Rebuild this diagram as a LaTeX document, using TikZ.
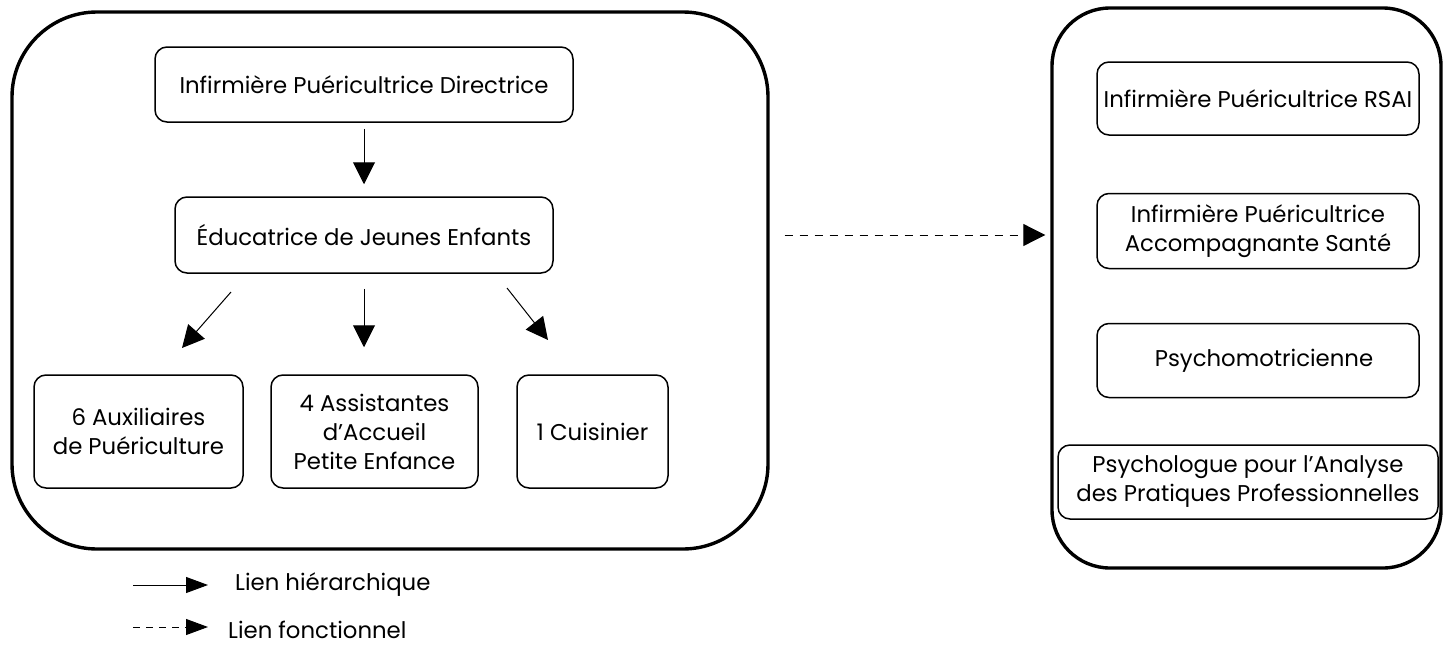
\documentclass[tikz,border=0pt]{standalone}
\usepackage{fontspec}
\setmainfont{Poppins}
\usetikzlibrary{arrows.meta}
\begin{document}
\begin{tikzpicture}[x=1pt,y=-1pt,
  bigbox/.style={draw, line width=3.4pt, rectangle, inner sep=0pt},
  ibox/.style={draw, line width=1.5pt, rectangle, rounded corners=12pt, inner sep=0pt, align=center,
    font=\fontsize{22.8}{29}\selectfont},
  harrow/.style={line width=1pt, -{Triangle[length=22pt,width=22pt]}},
  farrow/.style={line width=1pt, dash pattern=on 8pt off 7pt, -{Triangle[length=22pt,width=22pt]}},
  lgarrow/.style={line width=1pt, -{Triangle[length=22pt,width=16pt]}},
  lgdarrow/.style={line width=1pt, dash pattern=on 7pt off 6pt, -{Triangle[length=22pt,width=16pt]}},
  lgtext/.style={anchor=west, inner sep=0pt, font=\fontsize{22.8}{26}\selectfont}
]
\useasboundingbox (0,0) rectangle (1443,648);
% big containers
\node[bigbox, rounded corners=85pt, minimum width=756pt, minimum height=537pt] (lbox) at (390,280.5) {};
\node[bigbox, rounded corners=58pt, minimum width=389pt, minimum height=560pt] (rbox) at (1246.5,288) {};
% left hierarchy
\node[ibox, minimum width=418pt, minimum height=75pt] (dir) at (364,84.5) {Infirmière Puéricultrice Directrice};
\node[ibox, minimum width=378pt, minimum height=76pt] (edu) at (364,235) {Éducatrice de Jeunes Enfants};
\node[ibox, minimum width=209pt, minimum height=113pt] (aux) at (138.5,431.5) {6 Auxiliaires\\de Puériculture};
\node[ibox, minimum width=207pt, minimum height=113pt] (asst) at (374.5,431.5) {4 Assistantes\\d’Accueil\\Petite Enfance};
\node[ibox, minimum width=151pt, minimum height=113pt] (cuis) at (592.5,431.5) {1 Cuisinier};
% right column
\node[ibox, minimum width=322pt, minimum height=73pt] (rsai) at (1258,98.5) {Infirmière Puéricultrice RSAI};
\node[ibox, minimum width=322pt, minimum height=75pt] (acc) at (1258,231) {Infirmière Puéricultrice\\Accompagnante Santé};
\node[ibox, minimum width=322pt, minimum height=74pt] (psm) at (1258,360.5) {\hspace*{12pt}Psychomotricienne};
\node[ibox, minimum width=380pt, minimum height=74pt] (psy) at (1248,482) {Psychologue pour l’Analyse\\des Pratiques Professionnelles};
% connectors
\coordinate (l1) at (231,292);
\coordinate (l2) at (182,348);
\coordinate (r1) at (507,288);
\coordinate (r2) at (548,340);
\draw[harrow, shorten <=6pt, shorten >=12pt] (dir) -- (edu);
\draw[harrow, shorten <=15pt, shorten >=27pt] (edu.south) -- (edu.south |- asst.north);
\draw[harrow] (l1) -- (l2);
\draw[harrow] (r1) -- (r2);
\draw[farrow, shorten <=15pt, shorten >=5pt] (edu -| lbox.east) -- (edu -| rbox.west);
% legend
\coordinate (h1) at (133,585);
\coordinate (h2) at (208,585);
\coordinate (f1) at (133,627);
\coordinate (f2) at (208,627);
\draw[lgarrow] (h1) -- (h2);
\draw[lgdarrow] (f1) -- (f2);
\node[lgtext] (lh) at (235,585) {Lien hiérarchique};
\node[lgtext] (lf) at (228,630) {Lien fonctionnel};
\end{tikzpicture}
\end{document}
